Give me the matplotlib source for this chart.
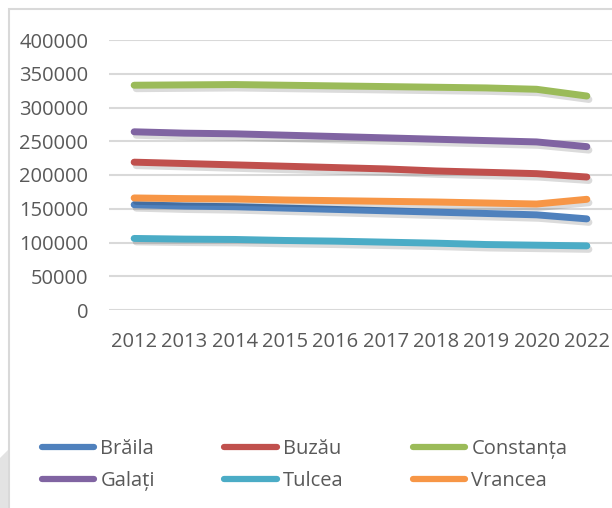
import matplotlib.pyplot as plt
import matplotlib.patheffects as pe
from matplotlib.patches import Rectangle, Polygon

plt.rcParams['font.family'] = ['Open Sans', 'DejaVu Sans']

# date
ani = ['2012', '2013', '2014', '2015', '2016', '2017', '2018', '2019', '2020', '2022']
judete = ['Brăila', 'Buzău', 'Constanța', 'Galați', 'Tulcea', 'Vrancea']
culori = ['#4F81BD', '#C0504D', '#9BBB59', '#8064A2', '#4BACC6', '#F79646']

braila = [156000, 154000, 153000, 151000, 149000, 147000, 145000, 143000, 141000, 135000]
buzau = [219000, 217000, 215000, 213000, 211000, 209000, 206000, 204000, 202000, 197000]
constanta = [333000, 333500, 334000, 333000, 332000, 331000, 330000, 329000, 327000, 317000]
galati = [264000, 262000, 261000, 259000, 257000, 255000, 253000, 251000, 249000, 242000]
tulcea = [106000, 105000, 104500, 103000, 102000, 100500, 99000, 97000, 96000, 95000]
vrancea = [166000, 165000, 164500, 163000, 162000, 161000, 160000, 158500, 157000, 164000]

serii = [braila, buzau, constanta, galati, tulcea, vrancea]

fig = plt.figure(figsize=(6.12, 5.08), dpi=100)

# chenarul graficului
fig.patches.append(Rectangle((9 / 612, -0.1), 1.2, 1 - 9 / 508 + 0.1, transform=fig.transFigure,
                             fill=False, edgecolor='#d9d9d9', linewidth=1.5))
fig.patches.append(Polygon([(0, 50 / 508), (8 / 612, 58 / 508), (8 / 612, 0), (0, 0)],
                           closed=True, transform=fig.transFigure, facecolor='#e3e3e3', edgecolor='none'))

ax = fig.add_axes([109 / 612, 1 - 310 / 508, 503 / 612, 270 / 508])
x = list(range(len(ani)))
linii = []
for nume, valori, c in zip(judete, serii, culori):
    l, = ax.plot(x, valori, color=c, linewidth=5.0, solid_capstyle='round', solid_joinstyle='round',
                 label=nume,
                 path_effects=[pe.SimpleLineShadow(offset=(1.5, -2.5), shadow_color='black', alpha=0.14),
                               pe.Normal()])
    linii.append(l)

ax.set_xlim(-0.5, 9.5)
ax.set_ylim(0, 400000)
ax.set_yticks(range(0, 400001, 50000))
ax.set_xticks(x)
ax.set_xticklabels(ani)
ax.yaxis.grid(True, color='#d9d9d9', linewidth=1.5)
ax.set_axisbelow(True)
for s in ax.spines.values():
    s.set_visible(False)
ax.tick_params(axis='both', length=0, labelsize=14.5, labelcolor='#595959')
ax.tick_params(axis='y', pad=15)
ax.tick_params(axis='x', pad=16)

# legenda, ordonata pe coloane
ordine = [0, 3, 1, 4, 2, 5]
leg = fig.legend([linii[i] for i in ordine], [judete[i] for i in ordine], ncol=3,
                 loc='center left', bbox_to_anchor=(32 / 612, 1 - 465 / 508), borderpad=0,
                 frameon=False, fontsize=14.5, handlelength=2.6, handletextpad=0.3,
                 columnspacing=3.45, labelspacing=0.58, labelcolor='#595959')
for h in leg.legend_handles:
    h.set_path_effects([])
    h.set_linewidth(4.5)
    h.set_solid_capstyle('round')

plt.savefig('out.png', dpi=100)
